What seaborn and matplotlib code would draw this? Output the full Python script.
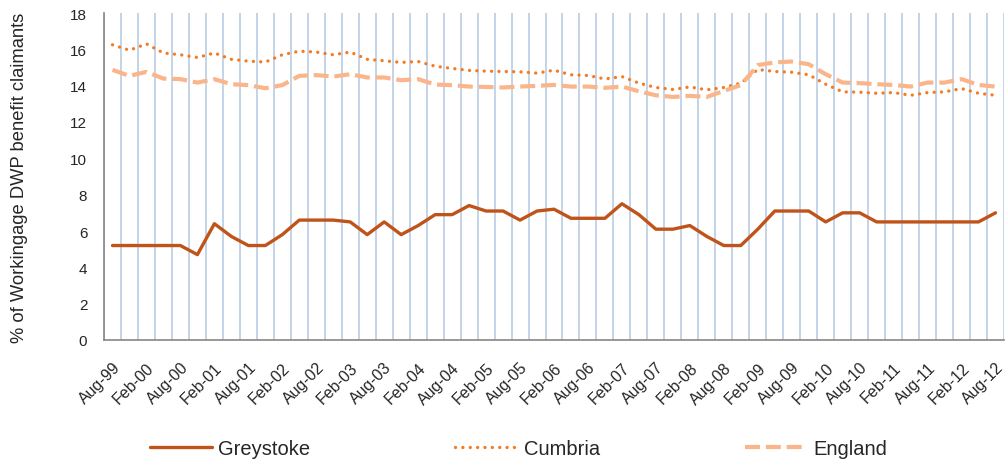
import matplotlib
matplotlib.use("Agg")
import matplotlib.pyplot as plt
import seaborn as sns
import pandas as pd
import numpy as np
from matplotlib.lines import Line2D

# Quarterly periods Aug-99 .. Aug-12
periods = ["Aug-99", "Nov-99", "Feb-00", "May-00", "Aug-00", "Nov-00", "Feb-01", "May-01",
           "Aug-01", "Nov-01", "Feb-02", "May-02", "Aug-02", "Nov-02", "Feb-03", "May-03",
           "Aug-03", "Nov-03", "Feb-04", "May-04", "Aug-04", "Nov-04", "Feb-05", "May-05",
           "Aug-05", "Nov-05", "Feb-06", "May-06", "Aug-06", "Nov-06", "Feb-07", "May-07",
           "Aug-07", "Nov-07", "Feb-08", "May-08", "Aug-08", "Nov-08", "Feb-09", "May-09",
           "Aug-09", "Nov-09", "Feb-10", "May-10", "Aug-10", "Nov-10", "Feb-11", "May-11",
           "Aug-11", "Nov-11", "Feb-12", "May-12", "Aug-12"]

greystoke = [5.2, 5.2, 5.2, 5.2, 5.2, 4.7, 6.4, 5.7, 5.2, 5.2, 5.8, 6.6, 6.6, 6.6, 6.5, 5.8,
             6.5, 5.8, 6.3, 6.9, 6.9, 7.4, 7.1, 7.1, 6.6, 7.1, 7.2, 6.7, 6.7, 6.7, 7.5, 6.9,
             6.1, 6.1, 6.3, 5.7, 5.2, 5.2, 6.1, 7.1, 7.1, 7.1, 6.5, 7.0, 7.0, 6.5, 6.5, 6.5,
             6.5, 6.5, 6.5, 6.5, 7.0]

cumbria = [16.25, 15.95, 16.3, 15.8, 15.7, 15.55, 15.8, 15.45, 15.35, 15.3, 15.7, 15.9, 15.85,
           15.7, 15.85, 15.45, 15.37, 15.28, 15.33, 15.07, 14.95, 14.84, 14.8, 14.78, 14.76,
           14.69, 14.85, 14.6, 14.56, 14.37, 14.5, 14.14, 13.9, 13.79, 13.93, 13.77, 13.9,
           14.14, 14.89, 14.78, 14.74, 14.6, 14.08, 13.66, 13.64, 13.58, 13.62, 13.47, 13.62,
           13.66, 13.84, 13.58, 13.47]

england = [14.87, 14.54, 14.76, 14.39, 14.36, 14.17, 14.36, 14.08, 14.03, 13.86, 14.03, 14.54,
           14.58, 14.5, 14.63, 14.45, 14.45, 14.3, 14.36, 14.06, 14.03, 13.95, 13.93, 13.9,
           13.95, 13.99, 14.04, 13.95, 13.95, 13.88, 13.95, 13.69, 13.47, 13.38, 13.44, 13.38,
           13.71, 14.03, 15.13, 15.28, 15.33, 15.18, 14.63, 14.17, 14.14, 14.08, 14.04, 13.95,
           14.17, 14.17, 14.36, 14.04, 13.95]

series_names = ["Greystoke", "Cumbria", "England"]
colors = {"Greystoke": "#C0531A", "Cumbria": "#F47B20", "England": "#FBB58A"}

sns.set_theme(style="white")
plt.rcParams["font.family"] = ["Liberation Sans", "DejaVu Sans"]

n = len(periods)
df = pd.DataFrame({
    "pos": list(range(n)) * 3,
    "value": greystoke + cumbria + england,
    "series": ["Greystoke"] * n + ["Cumbria"] * n + ["England"] * n,
})

fig = plt.figure(figsize=(10.07, 4.64), dpi=100)
ax = fig.add_axes([104 / 1007, 1 - 341 / 464, 900 / 1007, 327 / 464])

sns.lineplot(data=df, x="pos", y="value", hue="series", palette=colors,
             hue_order=series_names, ax=ax, legend=False, sort=False)

dot_style = (0, (0.01, 2.2))
dash_style = (0, (3.6, 1.4))
lines = ax.get_lines()
lines[0].set_linewidth(2.4)
lines[0].set_solid_joinstyle("round")
lines[1].set_linewidth(2.4)
lines[1].set_linestyle(dot_style)
lines[1].set_dash_capstyle("round")
lines[2].set_linewidth(3.0)
lines[2].set_linestyle(dash_style)
lines[2].set_dash_capstyle("butt")

ax.set_xlim(-0.5, n - 0.5)
ax.set_ylim(0, 18)
ax.set_yticks(np.arange(0, 19, 2))
ax.set_yticklabels([str(v) for v in range(0, 19, 2)], fontsize=11)

label_idx = list(range(0, n, 2))
ax.set_xticks(label_idx)
ax.set_xticklabels([periods[i] for i in label_idx], rotation=45, ha="right",
                   rotation_mode="anchor", fontsize=11.5)
ax.set_xticks(np.arange(-0.5, n, 1.0), minor=True)
ax.tick_params(axis="x", which="major", length=0, pad=14)
ax.tick_params(axis="x", which="minor", length=5, width=1.2, color="#868686", direction="out")
ax.tick_params(axis="y", which="major", length=5, width=1.2, color="#868686",
               direction="out", pad=7)
ax.grid(False)
ax.grid(which="minor", axis="x", color="#B9CDE5", linewidth=1.2)
ax.set_axisbelow(True)

for s in ["top", "right"]:
    ax.spines[s].set_visible(False)
for s in ["left", "bottom"]:
    ax.spines[s].set_color("#868686")
    ax.spines[s].set_linewidth(1.2)

ax.set_xlabel("")
ax.set_ylabel("% of Workingage DWP benefit claimants", fontsize=13.2)
ax.yaxis.set_label_coords(-(104 - 28) / 900, 0.5)

handles = [Line2D([], [], color=colors["Greystoke"], lw=2.4),
           Line2D([], [], color=colors["Cumbria"], lw=2.4, linestyle=dot_style,
                  dash_capstyle="round"),
           Line2D([], [], color=colors["England"], lw=3.0, linestyle=dash_style)]
fig.legend(handles, series_names, loc="center", bbox_to_anchor=(0.515, 1 - 450 / 464),
           ncol=3, frameon=False, fontsize=14.5, handlelength=3.1, columnspacing=7.2,
           handletextpad=0.3)

fig.savefig("out.png", dpi=100)
